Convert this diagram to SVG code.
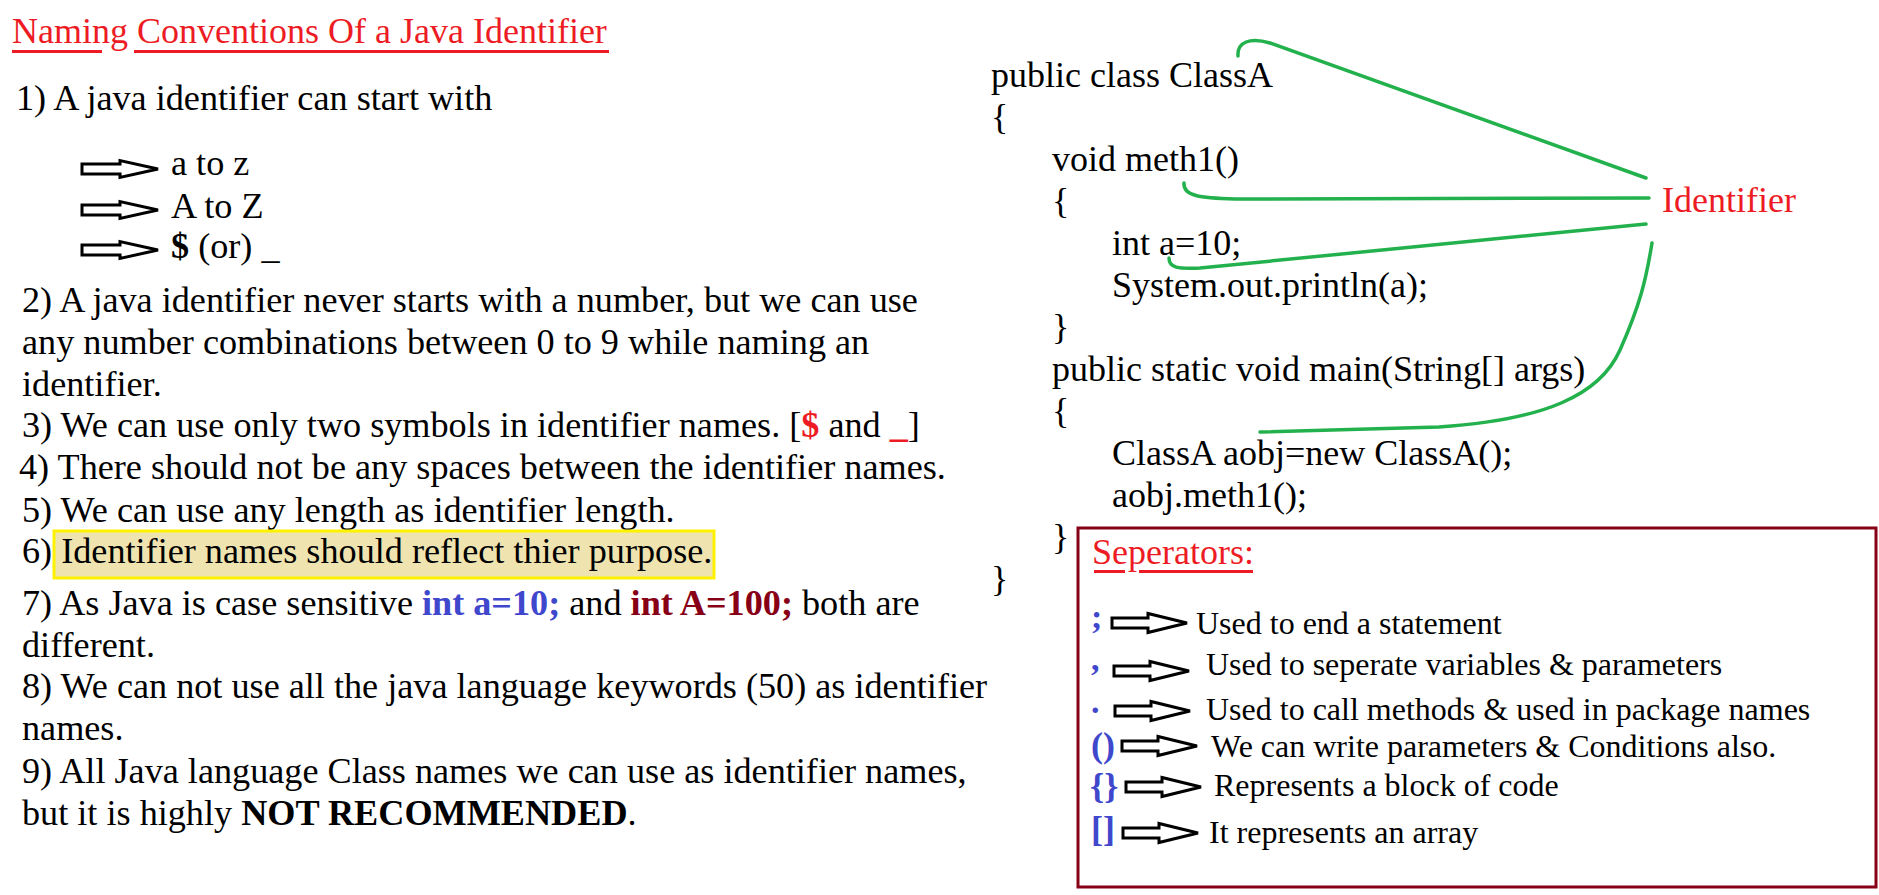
<svg xmlns="http://www.w3.org/2000/svg" xmlns:xlink="http://www.w3.org/1999/xlink" width="1879" height="895" viewBox="0 0 1879 895">
<style>
text{font-family:"Liberation Serif","Times New Roman",serif;font-size:36px;fill:#000}
#rules text{font-size:36.2px}
.red{fill:#ed1c24}
.blue{fill:#3f48cc}
.dred{fill:#880015}
.b{font-weight:bold}
.s32{font-size:32px}
.s34{font-size:34px}
.s36{font-size:36px}
.ul{fill:#ed1c24}
.arr{fill:#fff;stroke:#000;stroke-width:3;stroke-linejoin:miter}
.conn{fill:none;stroke:#22b14c;stroke-width:3.5;stroke-linecap:round}
</style>
<defs>
<path id="arrow" class="arr" d="M0,-5 H38 V-8.5 L76,0 L38,8.5 V5 H0 Z"/>
<path id="arrow2" class="arr" d="M0,-5 H36 V-9.5 L75,0 L36,9.5 V5 H0 Z"/>
</defs>
<rect width="1879" height="895" fill="#fff"/>

<g id="title">
<text class="red" x="12" y="43">Naming Conventions Of a Java Identifier</text>
<rect class="ul" x="12" y="50" width="90" height="3"/>
<rect class="ul" x="134" y="50" width="475" height="3"/>
</g>

<g id="rules">
<text x="16" y="110">1) A java identifier can start with</text>
<use xlink:href="#arrow" x="82" y="169"/>
<text x="171" y="175">a to z</text>
<use xlink:href="#arrow" x="82" y="210"/>
<text x="171" y="218">A to Z</text>
<use xlink:href="#arrow" x="82" y="250"/>
<text x="171" y="258"><tspan class="b">$</tspan> (or) _</text>
<text x="22" y="312">2) A java identifier never starts with a number, but we can use</text>
<text x="22" y="354">any number combinations between 0 to 9 while naming an</text>
<text x="22" y="396">identifier.</text>
<text x="22" y="437">3) We can use only two symbols in identifier names. [<tspan class="red b">$</tspan> and <tspan class="red b">_</tspan>]</text>
<text x="19" y="479">4) There should not be any spaces between the identifier names.</text>
<text x="22" y="522">5) We can use any length as identifier length.</text>
<rect x="54" y="531" width="660" height="47" fill="#efe4b0" stroke="#fff200" stroke-width="3"/>
<text x="22" y="563">6) Identifier names should reflect thier purpose.</text>
<text x="22" y="615">7) As Java is case sensitive <tspan class="blue b">int a=10;</tspan> and <tspan class="dred b">int A=100;</tspan> both are</text>
<text x="22" y="657">different.</text>
<text x="22" y="698">8) We can not use all the java language keywords (50) as identifier</text>
<text x="22" y="740">names.</text>
<text x="22" y="783">9) All Java language Class names we can use as identifier names,</text>
<text x="22" y="825">but it is highly <tspan class="b">NOT RECOMMENDED</tspan>.</text>
</g>

<g id="code">
<text x="991" y="87">public class ClassA</text>
<text x="991" y="129">{</text>
<text x="1052" y="171">void meth1()</text>
<text x="1052" y="213">{</text>
<text x="1112" y="255">int a=10;</text>
<text x="1112" y="297">System.out.println(a);</text>
<text x="1052" y="339">}</text>
<text x="1052" y="381">public static void main(String[] args)</text>
<text x="1052" y="423">{</text>
<text x="1112" y="465">ClassA aobj=new ClassA();</text>
<text x="1112" y="507">aobj.meth1();</text>
<text x="1052" y="549">}</text>
<text x="991" y="591">}</text>
</g>

<g id="identifier-label">
<text class="red" x="1662" y="212">Identifier</text>
</g>

<g id="connectors">
<path class="conn" d="M1238,56 C1237,42 1250,37 1270,43 L1646,178"/>
<path class="conn" d="M1184,183 C1183,196 1200,198 1235,199 L1649,198"/>
<path class="conn" d="M1169,258 C1169,268 1178,269 1200,268 L1646,224"/>
<path class="conn" d="M1260,432 L1439,427 C1545,420 1600,395 1620,350 C1640,305 1646,280 1652,243"/>
</g>

<g id="separators">
<rect x="1078" y="528" width="798" height="359" fill="none" stroke="#880015" stroke-width="3"/>
<text class="red" x="1092" y="564">Seperators:</text>
<rect class="ul" x="1094" y="570" width="31" height="3"/>
<rect class="ul" x="1139" y="570" width="114" height="3"/>

<text class="blue b s34" x="1091" y="628">;</text>
<use xlink:href="#arrow2" x="1112" y="623"/>
<text class="s32" x="1196" y="634">Used to end a statement</text>

<text class="blue b s34" x="1091" y="670">,</text>
<use xlink:href="#arrow2" x="1114" y="671"/>
<text class="s32" x="1206" y="675">Used to seperate variables &amp; parameters</text>

<text class="blue b s34" x="1091" y="713">.</text>
<use xlink:href="#arrow2" x="1115" y="711"/>
<text class="s32" x="1206" y="720">Used to call methods &amp; used in package names</text>

<text class="blue b s36" x="1091" y="757">()</text>
<use xlink:href="#arrow2" x="1122" y="746"/>
<text class="s32" x="1211" y="757">We can write parameters &amp; Conditions also.</text>

<text class="blue b s36" x="1090" y="798">{}</text>
<use xlink:href="#arrow2" x="1126" y="787"/>
<text class="s32" x="1214" y="796">Represents a block of code</text>

<text class="blue b s36" x="1091" y="841">[]</text>
<use xlink:href="#arrow2" x="1123" y="833"/>
<text class="s32" x="1209" y="843">It represents an array</text>
</g>
</svg>
